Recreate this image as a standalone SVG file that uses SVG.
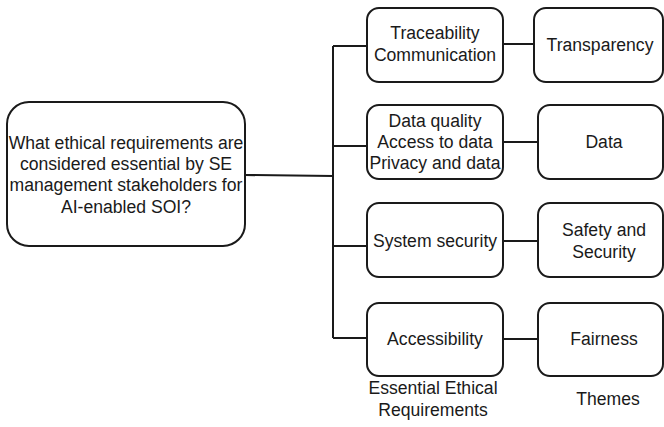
<svg xmlns="http://www.w3.org/2000/svg" width="664" height="427" viewBox="0 0 664 427">
<style>
.box{fill:#fff;stroke:#1a1a1a;stroke-width:2}
.t{font-family:"Liberation Sans",Arial,sans-serif;font-size:17.6px;fill:#1a1a1a;text-anchor:middle}
.c{fill:none;stroke:#1a1a1a;stroke-width:2}
</style>
<rect width="664" height="427" fill="#fff"/>
<g id="connectors">
<path class="c" d="M245 175 L333 176"/>
<path class="c" d="M333 46 L333 338"/>
<path class="c" d="M333 46 L367 46"/>
<path class="c" d="M333 146 L367 146"/>
<path class="c" d="M333 246 L367 246"/>
<path class="c" d="M333 338 L367 338"/>
<path class="c" d="M503 44 L534 44"/>
<path class="c" d="M503 142 L538 142"/>
<path class="c" d="M503 241 L538 241"/>
<path class="c" d="M503 339 L538 339"/>
</g>
<g id="question">
<rect class="box" x="7" y="102" width="238" height="144" rx="22"/>
<text class="t"><tspan x="126" y="149">What ethical requirements are</tspan><tspan x="126" y="170">considered essential by SE</tspan><tspan x="126" y="191">management stakeholders for</tspan><tspan x="126" y="213">AI-enabled SOI?</tspan></text>
</g>
<g id="req1">
<rect class="box" x="367" y="8" width="136" height="74" rx="12"/>
<text class="t"><tspan x="435" y="39">Traceability</tspan><tspan x="435" y="61">Communication</tspan></text>
</g>
<g id="req2">
<rect class="box" x="367" y="105" width="136" height="74" rx="12"/>
<text class="t"><tspan x="435" y="127">Data quality</tspan><tspan x="435" y="148">Access to data</tspan><tspan x="435" y="169">Privacy and data</tspan></text>
</g>
<g id="req3">
<rect class="box" x="367" y="203" width="136" height="74" rx="12"/>
<text class="t" x="435" y="247">System security</text>
</g>
<g id="req4">
<rect class="box" x="367" y="303" width="136" height="73" rx="12"/>
<text class="t" x="435" y="345">Accessibility</text>
</g>
<g id="theme1">
<rect class="box" x="534" y="8" width="129" height="74" rx="12"/>
<text class="t" x="600" y="51">Transparency</text>
</g>
<g id="theme2">
<rect class="box" x="538" y="105" width="125" height="74" rx="12"/>
<text class="t" x="604" y="148">Data</text>
</g>
<g id="theme3">
<rect class="box" x="538" y="203" width="125" height="74" rx="12"/>
<text class="t"><tspan x="604" y="236">Safety and</tspan><tspan x="604" y="258">Security</tspan></text>
</g>
<g id="theme4">
<rect class="box" x="538" y="303" width="125" height="73" rx="12"/>
<text class="t" x="604" y="345">Fairness</text>
</g>
<g id="labels">
<text class="t"><tspan x="433" y="394">Essential Ethical</tspan><tspan x="433" y="416">Requirements</tspan></text>
<text class="t" x="608" y="405">Themes</text>
</g>
</svg>
